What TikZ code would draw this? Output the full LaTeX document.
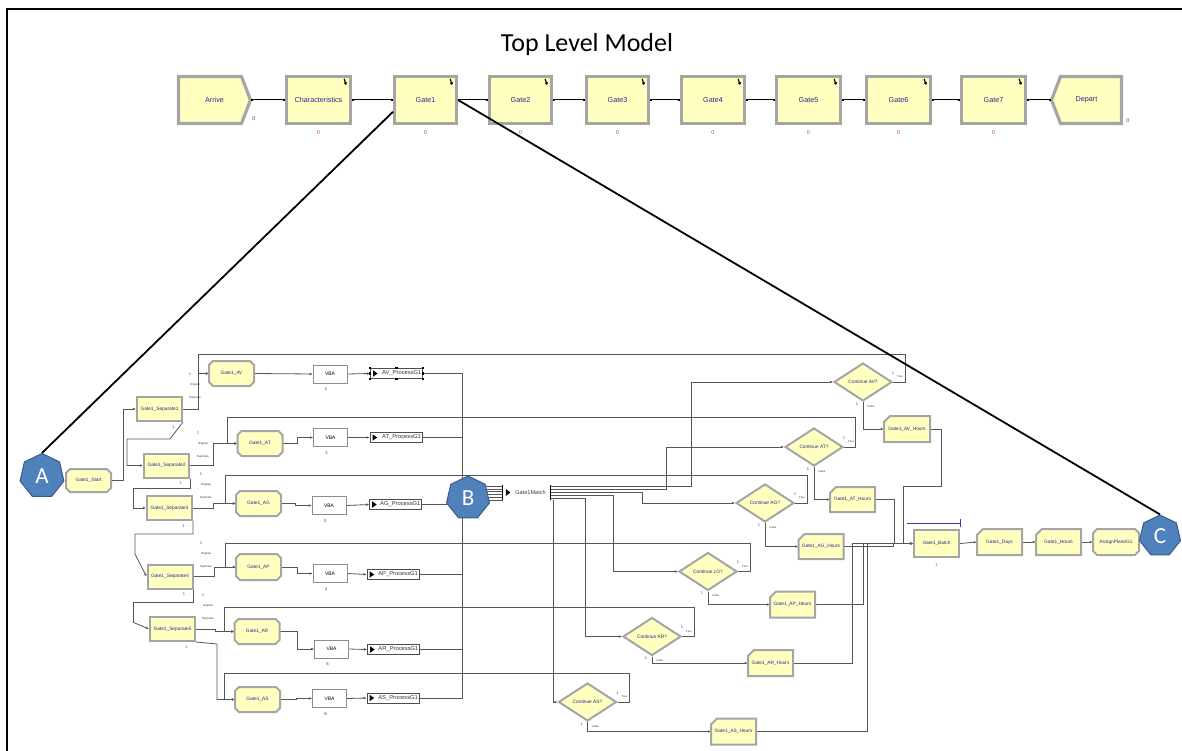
\documentclass[tikz,border=0pt]{standalone}
\usepackage{fontspec}
\setmainfont{Liberation Sans}
\newfontfamily\titlefont{Carlito}
\usetikzlibrary{shapes.geometric,arrows.meta,calc}
\pgfdeclarelayer{bg}
\pgfsetlayers{bg,main}
\definecolor{modyel}{RGB}{255,255,192}
\definecolor{modgray}{RGB}{165,165,165}
\definecolor{modtxt}{RGB}{40,40,140}
\definecolor{cngray}{RGB}{85,85,85}
\definecolor{hexblue}{RGB}{79,129,189}
\definecolor{hexedge}{RGB}{56,93,138}
\definecolor{zred}{RGB}{200,70,70}
\definecolor{zblue}{RGB}{60,60,200}
\definecolor{batchblue}{RGB}{50,60,170}
% octagon-like module (chamfered corners)
\newcommand\octbox[7]{%
  \path[#1] ({#3-#5/2+4},{#4-#6/2}) -- ({#3+#5/2-4},{#4-#6/2}) -- ({#3+#5/2},{#4-#6/2+4}) -- ({#3+#5/2},{#4+#6/2-4}) -- ({#3+#5/2-4},{#4+#6/2}) -- ({#3-#5/2+4},{#4+#6/2}) -- ({#3-#5/2},{#4+#6/2-4}) -- ({#3-#5/2},{#4-#6/2+4}) -- cycle;
  \node[blab, minimum width=#5pt, minimum height=#6pt] (#2) at (#3,#4) {#7};}
% assign module (top-left corner cut)
\newcommand\asgbox[7]{%
  \path[#1] ({#3-#5/2+6},{#4-#6/2}) -- ({#3+#5/2},{#4-#6/2}) -- ({#3+#5/2},{#4+#6/2}) -- ({#3-#5/2},{#4+#6/2}) -- ({#3-#5/2},{#4-#6/2+6}) -- cycle;
  \node[blab, minimum width=#5pt, minimum height=#6pt] (#2) at (#3,#4) {#7};}
% create module (point east)
\newcommand\crtbox[6]{%
  \path[tmod] ({#2-#4/2},{#3-#5/2}) -- ({#2+#4/2-9},{#3-#5/2}) -- ({#2+#4/2},{#3}) -- ({#2+#4/2-9},{#3+#5/2}) -- ({#2-#4/2},{#3+#5/2}) -- cycle;
  \node[tlab, minimum width=#4pt, minimum height=#5pt] (#1) at (#2,#3) {#6};}
% dispose module (point west)
\newcommand\dspbox[6]{%
  \path[tmod] ({#2-#4/2+9},{#3-#5/2}) -- ({#2+#4/2},{#3-#5/2}) -- ({#2+#4/2},{#3+#5/2}) -- ({#2-#4/2+9},{#3+#5/2}) -- ({#2-#4/2},{#3}) -- cycle;
  \node[tlab, minimum width=#4pt, minimum height=#5pt] (#1) at (#2,#3) {#6};}
% process module with icon and label
\newcommand\procbox[4]{%
  \node[proc] (#1) at (#2,#3) {};
  \fill ($(#1.west)+(3,-3.2)$) -- ++(4.5,3.2) -- ++(-4.5,3.2) -- cycle;
  \node[ptxt, anchor=east] at ($(#1.east)+(-1.2,0)$) {#4};}
\newcommand\gicon[1]{%
  \draw[line width=1.2pt, -{Triangle[length=2.4pt,width=3.2pt]}] ($(#1.north east)+(-8,4)$) -- ++(2,6);}
\begin{document}
\begin{tikzpicture}[x=1pt,y=-1pt,
  tmod/.style={draw=modgray, line width=3.2pt, fill=modyel},
  tlab/.style={text=modtxt, font=\fontsize{7.2}{8}\selectfont, inner sep=0pt},
  bmod/.style={draw=modgray, line width=2pt, fill=modyel},
  blab/.style={text=modtxt, font=\fontsize{4.8}{5}\selectfont, inner sep=0pt},
  sepbox/.style={bmod, blab, minimum width=45pt, minimum height=24pt},
  dmd/.style={diamond, aspect=1.5, draw=modgray, line width=2pt, fill=modyel, text=modtxt, font=\fontsize{4.8}{5}\selectfont, inner sep=0pt, minimum width=58pt, minimum height=38pt},
  vba/.style={draw=black!45, line width=.6pt, fill=white, font=\fontsize{5}{5}\selectfont, inner sep=0pt, minimum width=34pt, minimum height=18pt},
  proc/.style={draw=black!70, line width=.7pt, fill=white, inner sep=0pt, minimum width=52pt, minimum height=10pt},
  ptxt/.style={font=\fontsize{5.8}{6}\selectfont, text=black!80, inner sep=0pt},
  hept/.style={regular polygon, regular polygon sides=7, fill=hexblue, draw=hexedge, line width=1pt, text=white, font=\titlefont\fontsize{23}{23}\selectfont, inner sep=0pt},
  tcn/.style={line width=1pt, black, {Square[length=2.2pt]}-{Square[length=2.2pt]}},
  cn/.style={line width=.8pt, cngray, -{Latex[length=3pt,width=2.6pt]}},
  cnl/.style={line width=.8pt, cngray},
  big/.style={line width=1.8pt, black},
  zr/.style={text=zred, font=\fontsize{5.5}{6}\selectfont, inner sep=0pt},
  zb/.style={text=zblue, font=\fontsize{5.5}{6}\selectfont, inner sep=0pt},
  one/.style={text=zblue, font=\fontsize{4}{4}\selectfont, inner sep=0pt},
  num/.style={text=black!80, font=\fontsize{4.2}{4}\selectfont, inner sep=0pt},
  tiny/.style={text=black!80, font=\fontsize{2.8}{3}\selectfont, inner sep=0pt}]
\useasboundingbox (0,0) rectangle (1182,751);
% frame
\draw[line width=1.6pt] (7,751) -- (7,9) -- (1182,9);
% title
\node[font=\titlefont\fontsize{26}{26}\selectfont] (title) at (587,45) {Top Level Model};
% ---------- top level row ----------
\crtbox{arrive}{214.5}{100}{72}{47}{Arrive}
\node[tmod,tlab,minimum width=64pt,minimum height=47pt] (charac) at (318.5,100) {Characteristics};
\node[tmod,tlab,minimum width=62pt,minimum height=47pt] (gate1) at (425.5,100) {Gate1};
\node[tmod,tlab,minimum width=62pt,minimum height=47pt] (gate2) at (520.5,100) {Gate2};
\node[tmod,tlab,minimum width=62pt,minimum height=47pt] (gate3) at (617.5,100) {Gate3};
\node[tmod,tlab,minimum width=63pt,minimum height=47pt] (gate4) at (713,100) {Gate4};
\node[tmod,tlab,minimum width=64pt,minimum height=47pt] (gate5) at (808.5,100) {Gate5};
\node[tmod,tlab,minimum width=64pt,minimum height=47pt] (gate6) at (898.5,100) {Gate6};
\node[tmod,tlab,minimum width=64pt,minimum height=47pt] (gate7) at (993.5,100) {Gate7};
\dspbox{depart}{1086.5}{100}{70}{47}{Depart}
\foreach \g in {charac,gate1,gate2,gate3,gate4,gate5,gate6,gate7}{\gicon{\g}}
\draw[tcn] (arrive.east) -- (charac.west);
\draw[tcn] (charac.east) -- (gate1.west);
\draw[tcn] (gate1.east) -- (gate2.west);
\draw[tcn] (gate2.east) -- (gate3.west);
\draw[tcn] (gate3.east) -- (gate4.west);
\draw[tcn] (gate4.east) -- (gate5.west);
\draw[tcn] (gate5.east) -- (gate6.west);
\draw[tcn] (gate6.east) -- (gate7.west);
\draw[tcn] (gate7.east) -- (depart.west);
\foreach \g in {charac,gate1,gate2,gate3,gate4,gate5,gate6,gate7}{\node[zr] at ($(\g.south)+(0,8)$) {0};}
\node[zb] at (254,119) {0};
\node[zb] at (1128,121) {0};
% ---------- submodel: modules ----------
\octbox{bmod}{start}{88.5}{480.5}{45}{23}{Gate1\_Start}
\node[sepbox] (sep1) at (159.5,409) {Gate1\_Separate1};
\node[sepbox] (sep2) at (166.5,465.5) {Gate1\_Separate2};
\node[sepbox] (sep3) at (169.5,508) {Gate1\_Separate3};
\node[sepbox] (sep4) at (170,576.5) {Gate1\_Separate4};
\node[sepbox] (sep5) at (172.5,629) {Gate1\_Separate5};
\octbox{bmod}{gav}{231.5}{373.5}{45}{25}{Gate1\_AV}
\octbox{bmod}{gat}{260}{443.5}{45}{25}{Gate1\_AT}
\octbox{bmod}{gag}{258.5}{503.5}{45}{25}{Gate1\_AG}
\octbox{bmod}{gap}{258.5}{567}{45}{26}{Gate1\_AP}
\octbox{bmod}{gar}{257}{631.5}{45}{25}{Gate1\_AR}
\octbox{bmod}{gas}{257.5}{699.5}{45}{25}{Gate1\_AS}
\node[vba] (vba1) at (330,374) {VBA};
\node[vba] (vba2) at (330.5,437.5) {VBA};
\node[vba] (vba3) at (329,505.5) {VBA};
\node[vba] (vba4) at (330,573.5) {VBA};
\node[vba] (vba5) at (331.5,649) {VBA};
\node[vba] (vba6) at (329.5,698.5) {VBA};
\foreach \v/\n in {vba1/1,vba2/2,vba3/3,vba4/4,vba5/5,vba6/6}{\node[num] at ($(\v.south)+(-4,6)$) {\n};}
\procbox{pav}{396.5}{373.5}{AV\_ProcessG1}
\procbox{pat}{396}{437.5}{AT\_ProcessG1}
\procbox{pag}{395.5}{504.5}{AG\_ProcessG1}
\procbox{pap}{393}{574.5}{AP\_ProcessG1}
\procbox{par}{393.5}{649.5}{AR\_ProcessG1}
\procbox{pas}{393}{698}{AS\_ProcessG1}
\foreach \a in {north west,north,north east,west,east,south west,south,south east}{\fill (pav.\a) +(-1.3,-1.3) rectangle +(1.3,1.3);}
% Gate1Match
\node[font=\fontsize{5.6}{6}\selectfont, text=black!75, inner sep=0pt, minimum width=47pt, minimum height=14pt] (match) at (526.5,492.5) {\hspace{8pt}Gate1Match};
\draw[line width=.8pt] (match.north west) -- (match.south west);
\draw[line width=.8pt] (match.north east) -- (match.south east);
\fill ($(match.west)+(3,-3.5)$) -- ++(4.5,3.5) -- ++(-4.5,3.5) -- cycle;
\coordinate (m1) at ($(match.east)+(0,-6.5)$);
\coordinate (m2) at ($(match.east)+(0,-3.5)$);
\coordinate (m3) at ($(match.east)+(0,-0.5)$);
\coordinate (m4) at ($(match.east)+(0,2.5)$);
\coordinate (m5) at ($(match.east)+(0,5.5)$);
\coordinate (m6) at ($(match.south east)+(3,0)$);
\coordinate (bus) at (462,498);
% decisions
\node[dmd] (cav) at (863,382) {Continue AV?};
\node[dmd] (cat) at (814,447) {Continue AT?};
\node[dmd] (cag) at (765,503) {Continue AG?};
\node[dmd] (clo) at (708,571.5) {Continue LO?};
\node[dmd] (car) at (652,636.5) {Continue AR?};
\node[dmd] (cas) at (587.5,702) {Continue AS?};
\foreach \d in {cav,cat,cag,clo,car,cas}{
  \node[one] at ($(\d.east)+(0,-9)$) {1};
  \node[tiny] at ($(\d.east)+(7,-5)$) {True};
  \node[one] at ($(\d.south)+(-6,2)$) {1};
  \node[tiny] at ($(\d.south)+(8,4)$) {False};}
% hours
\asgbox{bmod}{hav}{907}{429}{46}{26}{Gate1\_AV\_Hours}
\asgbox{bmod}{hat}{852.5}{499.5}{45}{25}{Gate1\_AT\_Hours}
\asgbox{bmod}{hag}{821}{546.5}{45}{25}{Gate1\_AG\_Hours}
\asgbox{bmod}{hap}{792.5}{604.5}{45}{26}{Gate1\_AP\_Hours}
\asgbox{bmod}{har}{770.5}{663}{45}{26}{Gate1\_AR\_Hours}
\asgbox{bmod}{has}{733.5}{731.5}{45}{26}{Gate1\_AS\_Hours}
\node[bmod, blab, minimum width=45pt, minimum height=27pt] (batch) at (936.5,543.5) {Gate1\_Batch};
\asgbox{bmod}{days}{999.5}{542}{45}{26}{Gate1\_Days}
\asgbox{bmod}{hours}{1058.5}{542}{45}{26}{Gate1\_Hours}
\octbox{bmod}{plane}{1116}{542}{46}{26}{AssignPlaneG1}
\draw[batchblue, line width=.8pt] (907,523) -- (960,523) (960,519) -- (960,527);
\node[zr, font=\fontsize{4.2}{4}\selectfont] at ($(batch.south)+(0,7)$) {1};
% separate labels
\foreach \x/\y in {190/374, 198/433, 201/474, 201/543, 203/595}{
  \node[one] at (\x,\y) {1};
  \node[tiny] at (\x+5,\y+11) {Original};
  \node[tiny] at (\x+5,\y+24) {Duplicate};}
\foreach \s in {sep1,sep2,sep3,sep4,sep5}{\node[one] at ($(\s.south)+(14,5)$) {1};}
% heptagon markers
\node[hept, minimum size=45pt] (A) at (42,476) {A};
\node[hept, minimum size=44pt] (B) at (468,498) {B};
\node[hept, minimum size=42pt] (C) at (1160,536) {C};
% ---------- connectors (background) ----------
\begin{pgfonlayer}{bg}
\draw[cn] (start.east) -- ++(12,0) |- (sep1.west);
\draw[cn] (sep1.east) -- ++(15,0) |- (gav.west);
\draw[cn] (sep1.south east) -- ++(-13,17) -- ++(-43,0) |- (sep2.west);
\draw[cn] (sep2.east) -- ++(23,0) |- (gat.west);
\draw[cn] (sep2.south east) -- ++(0,10) -- ++(-57,0) |- (sep3.west);
\draw[cn] (sep3.east) -- ++(20,0) |- (gag.west);
\draw[cn] (sep3.south east) -- ++(0,13) -- ++(-58,0) -- ++(0,20) -- (sep4.west);
\draw[cn] (sep4.east) -- ++(21,0) |- (gap.west);
\draw[cn] (sep4.south east) -- ++(0,13) -- ++(-60,0) -- ++(0,20) -- (sep5.west);
\draw[cn] (sep5.east) -- ++(19,0) |- (gar.west);
\draw[cn] (sep5.south east) -- ++(21,2) |- (gas.west);
\draw[cn] (gav.east) -- (vba1.west);
\draw[cn] (gat.east) -- ++(15,0) |- (vba2.west);
\draw[cn] (gag.east) -- ++(14,0) |- (vba3.west);
\draw[cn] (gap.east) -- ++(16,0) |- (vba4.west);
\draw[cn] (gar.east) -- ++(18,0) |- (vba5.west);
\draw[cn] (gas.east) -- ++(16,0) |- (vba6.west);
\draw[cn] (vba1.east) -- (pav.west);
\draw[cn] (vba2.east) -- (pat.west);
\draw[cn] (vba3.east) -- (pag.west);
\draw[cn] (vba4.east) -- (pap.west);
\draw[cn] (vba5.east) -- (par.west);
\draw[cn] (vba6.east) -- (pas.west);
\foreach \p in {pav,pat,pag,pap,par,pas}{\draw[cnl] (\p.east) -| (bus);}
\foreach \k in {0,...,5}{\draw[cnl] ($(match.west)+(-36,{-6.5+2.9*\k})$) -- ($(match.west)+(0,{-6.5+2.9*\k})$);}
\draw[cn] (m1) -- ++(141,0) |- (cav.west);
\draw[cn] (m2) -- ++(116,0) |- (cat.west);
\draw[cn] (m3) -- ++(92,0) |- (cag.west);
\draw[cn] (m4) -- ++(63,0) |- (clo.west);
\draw[cn] (m5) -- ++(35,0) |- (car.west);
\draw[cn] (m6) |- (cas.west);
% true loops back to the gates
\draw[cn] (cav.east) -- ++(12,0) |- (198,354) |- (gav.west);
\draw[cn] (cat.east) -- ++(11,0) |- (227,417) |- (gat.west);
\draw[cn] (cag.east) -- ++(12,0) |- (225,475) |- (gag.west);
\draw[cn] (clo.east) -- ++(12,0) |- (225,543) |- (gap.west);
\draw[cn] (car.east) -- ++(12,0) |- (224,607) |- (gar.west);
\draw[cn] (cas.east) -- ++(12,0) |- (224,673) |- (gas.west);
% false exits
\draw[cn] (cav.south) |- (hav.west);
\draw[cn] (cat.south) |- (hat.west);
\draw[cn] (cag.south) |- (hag.west);
\draw[cn] (clo.south) |- (hap.west);
\draw[cn] (car.south) |- (har.west);
\draw[cn] (cas.south) |- (has.west);
% hours to batch
\draw[cn] (hav.east) -- ++(11,0) |- (903,486) |- (batch.west);
\draw[cn] (hat.east) -- ++(19,0) |- (batch.west);
\draw[cn] (hag.east) -- ++(50,0) |- (batch.west);
\draw[cn] (hap.east) -- ++(48,0) |- (batch.west);
\draw[cn] (har.east) -- ++(59,0) |- (batch.west);
\draw[cn] (has.east) -- ++(111,0) |- (batch.west);
\draw[cn] (batch.east) -- (days.west);
\draw[cn] (days.east) -- (hours.west);
\draw[cn] (hours.east) -- (plane.west);
\draw[cnl] (plane.east) -- (C.west);
\end{pgfonlayer}
% zoom lines from Gate1
\draw[big] (gate1.200) -- (A.corner 1);
\draw[big] (gate1.east) -- (C.corner 1);
\end{tikzpicture}
\end{document}
